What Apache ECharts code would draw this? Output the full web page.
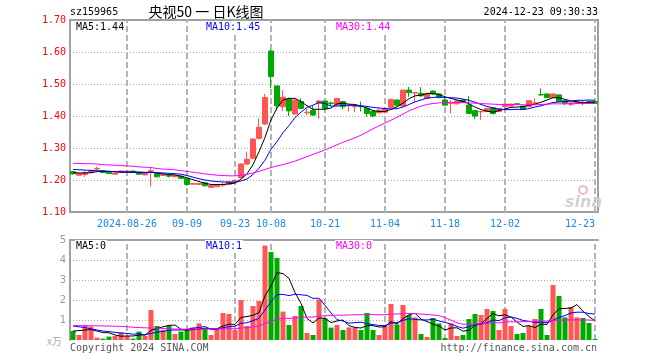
<!DOCTYPE html>
<html><head><meta charset="utf-8">
<script src="https://cdn.jsdelivr.net/npm/echarts@6/dist/echarts.min.js"></script>
<style>html,body{margin:0;padding:0;background:#fff}#c{width:660px;height:360px}</style>
</head><body><div id="c"></div>
<script>
const dates = [
'2024-08-13','2024-08-14','2024-08-15','2024-08-16','2024-08-19','2024-08-20','2024-08-21','2024-08-22','2024-08-23','2024-08-26',
'2024-08-27','2024-08-28','2024-08-29','2024-08-30','2024-09-02','2024-09-03','2024-09-04','2024-09-05','2024-09-06','2024-09-09',
'2024-09-10','2024-09-11','2024-09-12','2024-09-13','2024-09-18','2024-09-19','2024-09-20','2024-09-23','2024-09-24','2024-09-25',
'2024-09-26','2024-09-27','2024-09-30','2024-10-08','2024-10-09','2024-10-10','2024-10-11','2024-10-14','2024-10-15','2024-10-16',
'2024-10-17','2024-10-18','2024-10-21','2024-10-22','2024-10-23','2024-10-24','2024-10-25','2024-10-28','2024-10-29','2024-10-30',
'2024-10-31','2024-11-01','2024-11-04','2024-11-05','2024-11-06','2024-11-07','2024-11-08','2024-11-11','2024-11-12','2024-11-13',
'2024-11-14','2024-11-15','2024-11-18','2024-11-19','2024-11-20','2024-11-21','2024-11-22','2024-11-25','2024-11-26','2024-11-27',
'2024-11-28','2024-11-29','2024-12-02','2024-12-03','2024-12-04','2024-12-05','2024-12-06','2024-12-09','2024-12-10','2024-12-11',
'2024-12-12','2024-12-13','2024-12-16','2024-12-17','2024-12-18','2024-12-19','2024-12-20','2024-12-23'];

const dateTicks = ['2024-08-26','2024-09-09','2024-09-23','2024-10-08','2024-10-21','2024-11-04','2024-11-18','2024-12-02','2024-12-23'];

const opens = [
1.226,1.215,1.217,1.223,1.234,1.229,1.225,1.218,1.224,1.225,
1.228,1.224,1.216,1.226,1.220,1.214,1.214,1.210,1.212,1.205,
1.187,1.186,1.191,1.177,1.179,1.184,1.187,1.194,1.208,1.250,
1.268,1.330,1.375,1.603,1.494,1.429,1.453,1.406,1.445,1.410,
1.417,1.440,1.447,1.441,1.434,1.445,1.432,1.429,1.430,1.424,
1.414,1.410,1.412,1.427,1.450,1.431,1.481,1.472,1.471,1.455,
1.478,1.469,1.450,1.440,1.438,1.450,1.434,1.417,1.413,1.414,
1.426,1.414,1.429,1.431,1.438,1.431,1.429,1.440,1.467,1.469,
1.458,1.466,1.448,1.437,1.440,1.442,1.445,1.445];
const closes = [
1.219,1.220,1.223,1.230,1.236,1.223,1.220,1.222,1.228,1.228,
1.224,1.218,1.222,1.229,1.210,1.218,1.212,1.214,1.205,1.186,
1.189,1.189,1.182,1.183,1.186,1.186,1.195,1.198,1.250,1.265,
1.328,1.365,1.458,1.523,1.432,1.459,1.416,1.450,1.424,1.412,
1.403,1.447,1.424,1.439,1.455,1.429,1.434,1.431,1.429,1.408,
1.400,1.418,1.424,1.452,1.434,1.481,1.473,1.473,1.463,1.471,
1.469,1.458,1.434,1.441,1.447,1.442,1.408,1.400,1.414,1.424,
1.408,1.424,1.437,1.437,1.437,1.421,1.448,1.441,1.466,1.458,
1.469,1.445,1.440,1.441,1.445,1.441,1.443,1.440];
const lows = [
1.217,1.213,1.210,1.221,1.229,1.222,1.219,1.217,1.223,1.224,
1.222,1.216,1.215,1.179,1.208,1.213,1.208,1.209,1.203,1.182,
1.185,1.185,1.180,1.176,1.178,1.179,1.186,1.192,1.205,1.246,
1.265,1.327,1.372,1.487,1.418,1.416,1.400,1.404,1.421,1.403,
1.400,1.391,1.421,1.431,1.431,1.421,1.414,1.412,1.414,1.398,
1.396,1.408,1.408,1.425,1.429,1.430,1.460,1.445,1.460,1.453,
1.466,1.455,1.431,1.408,1.436,1.440,1.406,1.390,1.388,1.412,
1.405,1.412,1.428,1.430,1.434,1.419,1.428,1.434,1.463,1.457,
1.457,1.444,1.434,1.431,1.439,1.434,1.440,1.439];
const highs = [
1.228,1.221,1.228,1.232,1.242,1.230,1.226,1.223,1.229,1.229,
1.229,1.225,1.223,1.239,1.221,1.219,1.216,1.215,1.213,1.206,
1.191,1.190,1.192,1.184,1.187,1.191,1.196,1.200,1.252,1.289,
1.330,1.393,1.469,1.607,1.494,1.481,1.458,1.452,1.455,1.424,
1.431,1.450,1.448,1.445,1.456,1.447,1.435,1.432,1.445,1.424,
1.414,1.424,1.426,1.454,1.452,1.481,1.491,1.474,1.490,1.472,
1.480,1.472,1.455,1.450,1.449,1.452,1.462,1.417,1.415,1.425,
1.427,1.425,1.438,1.438,1.440,1.432,1.449,1.455,1.486,1.470,
1.470,1.467,1.449,1.445,1.446,1.448,1.446,1.446];

const ma5 = [
1.223,1.222,1.222,1.223,1.226,1.227,1.227,1.226,1.225,1.224,
1.224,1.223,1.223,1.224,1.222,1.219,1.217,1.216,1.212,1.207,
1.201,1.195,1.190,1.186,1.186,1.186,1.188,1.190,1.203,1.219,
1.248,1.288,1.333,1.388,1.425,1.450,1.455,1.455,1.445,1.432,
1.421,1.421,1.421,1.425,1.438,1.440,1.437,1.436,1.431,1.425,
1.417,1.414,1.414,1.421,1.429,1.440,1.454,1.463,1.465,1.470,
1.470,1.467,1.460,1.455,1.450,1.446,1.438,1.428,1.420,1.415,
1.412,1.417,1.422,1.427,1.428,1.429,1.434,1.437,1.443,1.450,
1.457,1.457,1.452,1.447,1.444,1.441,1.443,1.443];
const ma10 = [
1.233,1.232,1.231,1.230,1.229,1.228,1.227,1.226,1.225,1.225,
1.225,1.225,1.224,1.224,1.223,1.222,1.221,1.220,1.218,1.214,
1.209,1.204,1.200,1.197,1.195,1.194,1.193,1.193,1.197,1.203,
1.217,1.237,1.262,1.296,1.320,1.348,1.370,1.395,1.412,1.427,
1.434,1.442,1.439,1.431,1.431,1.433,1.434,1.433,1.432,1.430,
1.427,1.425,1.423,1.422,1.423,1.428,1.436,1.444,1.450,1.456,
1.458,1.459,1.458,1.457,1.456,1.453,1.449,1.443,1.436,1.430,
1.425,1.421,1.420,1.420,1.421,1.420,1.423,1.428,1.432,1.437,
1.442,1.444,1.445,1.447,1.449,1.449,1.450,1.449];
const ma30 = [
1.252,1.252,1.251,1.251,1.250,1.248,1.247,1.246,1.245,1.244,
1.243,1.241,1.240,1.239,1.236,1.234,1.233,1.232,1.229,1.227,
1.224,1.222,1.219,1.217,1.215,1.214,1.213,1.213,1.215,1.218,
1.222,1.227,1.233,1.239,1.244,1.248,1.253,1.259,1.266,1.273,
1.280,1.287,1.294,1.302,1.310,1.318,1.325,1.332,1.340,1.350,
1.360,1.369,1.378,1.387,1.396,1.406,1.416,1.424,1.431,1.436,
1.439,1.441,1.442,1.442,1.443,1.442,1.441,1.440,1.439,1.438,
1.437,1.436,1.436,1.436,1.436,1.435,1.435,1.435,1.436,1.437,
1.438,1.438,1.438,1.438,1.439,1.439,1.439,1.439];

const volumes = [
0.45,0.25,0.75,0.67,0.12,0.07,0.17,0.20,0.38,0.20,
0.07,0.42,0.20,1.50,0.70,0.50,0.73,0.30,0.42,0.50,
0.63,0.83,0.57,0.25,0.50,1.35,1.30,0.50,2.00,0.70,
1.70,1.95,4.72,4.40,4.10,1.42,0.75,1.20,1.70,0.35,
0.25,2.03,1.08,0.62,0.75,0.50,0.63,0.63,0.50,1.35,
0.50,0.25,0.70,1.80,0.78,1.75,1.25,1.13,0.30,0.15,
1.10,0.83,0.10,0.83,0.20,0.25,1.05,1.30,1.25,1.55,
1.45,0.50,1.55,0.70,0.30,0.35,0.70,1.05,1.55,0.25,
2.75,2.20,1.13,1.65,1.13,1.10,0.85,0.05];
const vma5 = [
0.45,0.47,0.50,0.52,0.45,0.37,0.36,0.25,0.19,0.20,
0.20,0.25,0.25,0.48,0.58,0.66,0.73,0.75,0.53,0.49,
0.52,0.54,0.59,0.56,0.56,0.70,0.79,0.78,1.13,1.17,
1.24,1.37,2.21,2.69,3.37,3.32,3.08,2.37,1.83,1.08,
0.85,1.10,1.08,0.87,0.95,1.00,0.72,0.63,0.60,0.72,
0.72,0.65,0.66,0.92,0.81,1.06,1.26,1.34,1.04,0.92,
0.79,0.70,0.50,0.60,0.61,0.44,0.49,0.73,0.81,1.08,
1.32,1.21,1.26,1.15,0.90,0.68,0.72,0.62,0.79,0.78,
1.26,1.56,1.58,1.60,1.77,1.44,1.17,0.96];
const vma10 = [
0.70,0.66,0.62,0.56,0.50,0.45,0.42,0.38,0.35,0.33,
0.29,0.31,0.25,0.33,0.39,0.43,0.49,0.50,0.50,0.53,
0.59,0.63,0.67,0.54,0.52,0.61,0.67,0.69,0.84,0.86,
0.97,1.08,1.50,1.91,2.27,2.28,2.22,2.29,2.26,2.23,
2.08,2.09,1.73,1.35,1.02,0.95,0.84,0.87,0.89,0.82,
0.77,0.73,0.72,0.85,0.87,0.98,1.06,1.03,1.01,1.00,
1.04,0.95,0.88,0.79,0.68,0.59,0.67,0.78,0.80,0.87,
1.00,0.97,1.11,1.15,1.08,0.98,0.93,0.88,0.89,0.86,
0.98,1.13,1.22,1.35,1.39,1.39,1.32,1.30];
const vma30 = [
0.72,0.72,0.72,0.71,0.71,0.70,0.70,0.69,0.68,0.66,
0.64,0.62,0.61,0.60,0.59,0.58,0.56,0.55,0.54,0.54,
0.54,0.54,0.55,0.55,0.55,0.56,0.56,0.56,0.60,0.62,
0.65,0.70,0.82,0.93,1.05,1.08,1.08,1.10,1.13,1.14,
1.15,1.19,1.21,1.23,1.24,1.24,1.25,1.26,1.26,1.28,
1.27,1.26,1.26,1.30,1.30,1.33,1.33,1.32,1.30,1.27,
1.25,1.22,1.12,0.99,0.86,0.79,0.79,0.80,0.80,0.83,
0.86,0.86,0.90,0.91,0.91,0.92,0.92,0.93,0.95,0.94,
0.97,0.99,1.00,1.01,1.01,1.00,1.00,0.98];

const RED = '#ff5555', GREEN = '#00a800';
const MONO = "'DejaVu Sans Mono', monospace";

const candleData = dates.map((d, i) => [opens[i], closes[i], lows[i], highs[i]]);
const volData = volumes.map((v, i) => ({ value: v, itemStyle: { color: closes[i] >= opens[i] ? RED : GREEN } }));
const vLineCfg = {
  silent: true, symbol: ['none', 'none'], label: { show: false }, animation: false, z: 1,
  lineStyle: { color: '#b4b4b4', width: 2, type: [6, 3] },
  emphasis: { disabled: true },
  data: dateTicks.map(d => ({ xAxis: d }))
};
function maLine(name, data, color, xi, yi) {
  return { name, type: 'line', data, xAxisIndex: xi, yAxisIndex: yi, showSymbol: false, symbol: 'none',
    lineStyle: { color, width: 1 }, itemStyle: { color }, z: 5, silent: true };
}
function txt(x, y, s, color, extra) {
  return Object.assign({ type: 'text', x, y, z: 100, style: Object.assign({ text: s, fill: color, font: '10px ' + MONO, textVerticalAlign: 'middle' }, extra || {}) });
}

const chart = echarts.init(document.getElementById('c'), null, { renderer: 'canvas' });
chart.setOption({
  animation: false,
  backgroundColor: '#fff',
  grid: [
    { left: 70, top: 20, width: 528, height: 192, show: true, borderColor: '#a0a0a0', borderWidth: 2, backgroundColor: 'transparent' },
    { left: 70, top: 240, width: 528, height: 100 }
  ],
  xAxis: [
    { type: 'category', gridIndex: 0, data: dates, boundaryGap: true,
      axisLine: { show: false }, axisTick: { show: false }, splitLine: { show: false },
      axisLabel: { interval: (i, v) => dateTicks.includes(v), hideOverlap: false,
        formatter: v => (v === dateTicks[0] ? v : v.slice(5)),
        color: '#1a88e0', fontFamily: MONO, fontSize: 10, margin: 7, alignMaxLabel: 'right' } },
    { type: 'category', gridIndex: 1, data: dates, boundaryGap: true,
      axisLine: { show: false }, axisTick: { show: false }, axisLabel: { show: false }, splitLine: { show: false } },
    { type: 'category', gridIndex: 1, data: dates, boundaryGap: true, position: 'top',
      axisLine: { show: true, lineStyle: { color: '#a0a0a0', width: 2 } }, axisTick: { show: false }, axisLabel: { show: false }, splitLine: { show: false } }
  ],
  yAxis: [
    { type: 'value', gridIndex: 0, min: 1.1, max: 1.7, interval: 0.1,
      axisLine: { show: false }, axisTick: { show: false },
      axisLabel: { color: '#ff0000', fontFamily: MONO, fontSize: 10, margin: 4, formatter: v => v.toFixed(2) },
      splitLine: { show: true, showMinLine: false, showMaxLine: false, lineStyle: { color: '#a8a8a8', width: 1, type: [1, 2] } } },
    { type: 'value', gridIndex: 1, min: 0, max: 5, interval: 1,
      axisLine: { show: true, lineStyle: { color: '#a0a0a0', width: 2 } }, axisTick: { show: false },
      axisLabel: { color: '#9a9a9a', fontFamily: "'DejaVu Sans', sans-serif", fontSize: 10, margin: 4, formatter: v => (v === 0 ? '' : String(v)) },
      splitLine: { show: true, showMinLine: false, showMaxLine: false, lineStyle: { color: '#a8a8a8', width: 1, type: [1, 2] } } }
  ],
  series: [
    { name: 'grid0lines', type: 'line', data: [], xAxisIndex: 0, yAxisIndex: 0, z: 1, markLine: vLineCfg },
    { name: 'K', type: 'candlestick', data: candleData, xAxisIndex: 0, yAxisIndex: 0, barWidth: 5, z: 3, silent: true,
      itemStyle: { color: RED, color0: GREEN, borderColor: RED, borderColor0: GREEN, borderWidth: 1 } },
    maLine('MA5', ma5, '#000000', 0, 0),
    maLine('MA10', ma10, '#0000ff', 0, 0),
    maLine('MA30', ma30, '#ff00ff', 0, 0),
    { name: 'grid1lines', type: 'line', data: [], xAxisIndex: 1, yAxisIndex: 1, z: 1, markLine: vLineCfg },
    { name: 'VOL', type: 'bar', data: volData, xAxisIndex: 1, yAxisIndex: 1, barWidth: 5, z: 3, silent: true },
    maLine('VMA5', vma5, '#000000', 1, 1),
    maLine('VMA10', vma10, '#0000ff', 1, 1),
    maLine('VMA30', vma30, '#ff00ff', 1, 1)
  ],
  graphic: [
    txt(70, 12, 'sz159965', '#000'),
    txt(206, 12, '央视50 一 日K线图', '#000', { font: "14px 'Noto Sans CJK SC', sans-serif", textAlign: 'center' }),
    txt(598, 12, '2024-12-23 09:30:33', '#000', { textAlign: 'right' }),
    txt(75, 27, 'MA5:1.44', '#000', { backgroundColor: '#fff', padding: [1, 1] }),
    txt(205, 27, 'MA10:1.45', '#0000ff', { backgroundColor: '#fff', padding: [1, 1] }),
    txt(335, 27, 'MA30:1.44', '#ff00ff', { backgroundColor: '#fff', padding: [1, 1] }),
    txt(75, 246, 'MA5:0', '#000', { backgroundColor: '#fff', padding: [1, 1] }),
    txt(205, 246, 'MA10:1', '#0000ff', { backgroundColor: '#fff', padding: [1, 1] }),
    txt(335, 246, 'MA30:0', '#ff00ff', { backgroundColor: '#fff', padding: [1, 1] }),
    txt(47, 341, 'x万', '#aaaaaa', { font: "10px 'Noto Sans CJK SC', sans-serif" }),
    txt(70, 348, 'Copyright 2024 SINA.COM', '#555'),
    txt(597, 348, 'http://finance.sina.com.cn', '#555', { textAlign: 'right' }),
    { type: 'circle', z: 0, shape: { cx: 583, cy: 190, r: 4 }, style: { fill: 'none', stroke: '#f2b8b8', lineWidth: 2 } },
    txt(565, 203, 'sina', '#d2d2d2', { font: "italic bold 16px 'DejaVu Sans', sans-serif" })
  ]
});
</script>
</body></html>
